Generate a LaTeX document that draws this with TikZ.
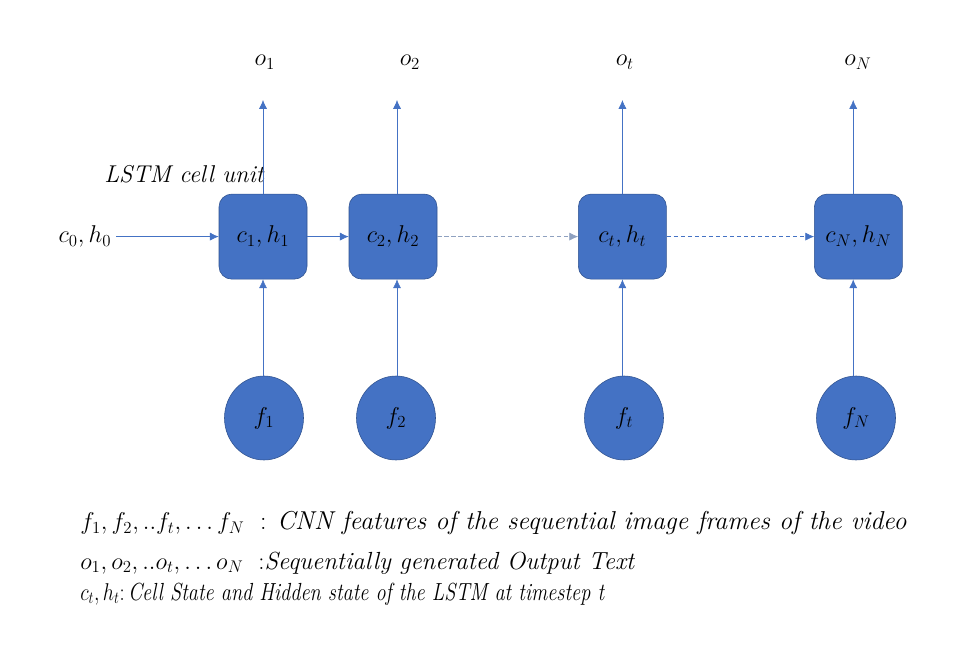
\documentclass[tikz,border=0pt]{standalone}
\usepackage{amsmath}
\usepackage{amssymb}
\usepackage{graphicx}
\usetikzlibrary{arrows.meta,shapes.geometric}
\definecolor{cellblue}{HTML}{4472C4}
\definecolor{cellrim}{HTML}{2F528F}
\begin{document}
\begin{tikzpicture}[auto,scale=1.0]
    \tikzstyle{cell}=[rectangle,draw=cellrim,fill=cellblue,rounded corners=9pt,minimum width=2.2cm,minimum height=2.125cm,font=\LARGE]
	\tikzstyle{feature}=[ellipse,draw=cellrim,fill=cellblue,minimum width=1.975cm,minimum height=2.1cm,font=\LARGE]
	\tikzstyle{label}=[font=\LARGE]
	\tikzstyle{flow}=[cellblue,-{Latex[length=2.2mm,width=2mm]}]
	\tikzstyle{skip}=[flow,dashed,dash pattern=on 3pt off 2pt]
	\tikzstyle{legend}=[right,inner sep=0pt]
	\useasboundingbox (0,0) rectangle (24,16.325);
	\node (cell1) at (6.575,10.41) [cell] {$c_1,h_1$};
	\node (cell2) at (9.825,10.41) [cell] {$c_2,h_2$};
	\node (cellt) at (15.56,10.41) [cell] {$c_t,h_t$};
	\node (cellN) at (21.46,10.41) [cell] {$c_N,h_N$};
	\node (feat1) at (6.6,5.875)  [feature] {$f_1$};
	\node (feat2) at (9.9,5.875)  [feature] {$f_2$};
	\node (featt) at (15.6,5.875) [feature] {$f_t$};
	\node (featN) at (21.4,5.875) [feature] {$f_N$};
	\node (out1) at (6.62,14.775)  [label] {$o_1$};
	\node (out2) at (10.25,14.775) [label] {$o_2$};
	\node (outt) at (15.62,14.775) [label] {$o_t$};
	\node (outN) at (21.45,14.775) [label] {$o_N$};
	\node (init) at (2.125,10.41) [label] {$c_0,h_0$};
	\node (unit) at (4.6,11.98) [label] {\itshape LSTM cell unit};
	\foreach \c/\f/\x in {1/1/6.575,2/2/9.925,t/t/15.56,N/N/21.33}
	{
		\coordinate (tip\c) at (\x,13.825);
		\draw [flow] (\x,0 |- feat\f.north) -- (\x,0 |- cell\c.south);
		\draw [flow] (\x,0 |- cell\c.north) -- (tip\c);
	}
	\draw [flow] (init.east) -- (cell1.west);
	\draw [flow] (cell1.east) -- (cell2.west);
	\draw [skip,cellblue!55!gray!70] (cell2.east) -- (cellt.west);
	\draw [skip] (cellt.east) -- (cellN.west);
	\node (leg1) at (2.0,3.25)  [legend,font=\fontsize{18.4}{22}\selectfont] {$f_1, f_2, ..f_t, \ldots f_N$ \ : \textit{CNN features of the sequential image frames of the video}};
	\node (leg2) at (2.0,2.25)  [legend,font=\fontsize{17.6}{22}\selectfont] {$o_1, o_2, ..o_t, \ldots o_N$ \ :\textit{Sequentially generated Output Text}};
	\node (leg3) at (2.0,1.475) [legend,font=\fontsize{17.6}{22}\selectfont] {\scalebox{0.82}[1]{$c_t, h_t$:\,\textit{Cell State and Hidden state of the LSTM at timestep t}}};
\end{tikzpicture}
\end{document}
